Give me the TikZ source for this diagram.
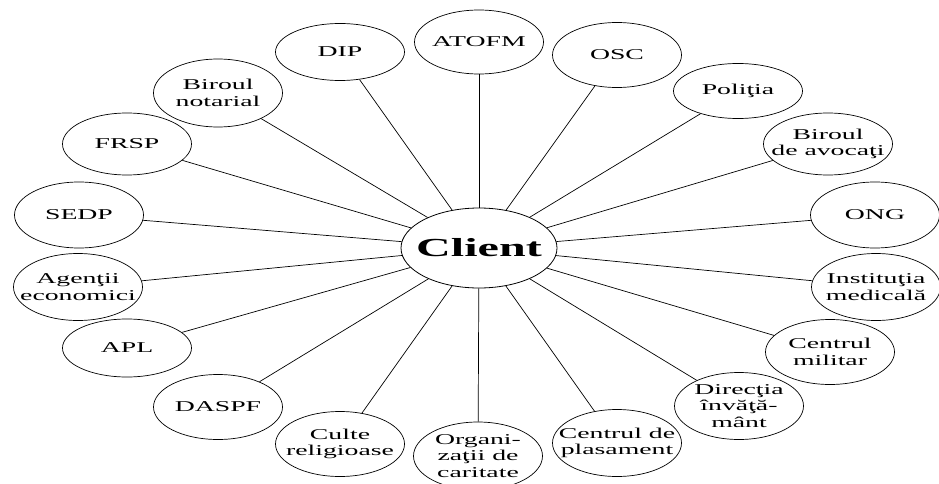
\documentclass[tikz,border=0pt]{standalone}
\usepackage{fontspec}
\setmainfont{Liberation Serif}[FakeStretch=1.85]
\usetikzlibrary{shapes.geometric}

\tikzset{
  hub/.style={ellipse, draw, line width=0.8pt, minimum width=156pt,
    minimum height=80pt, inner sep=0pt},
  hubtext/.style={inner sep=0pt, font=\fontsize{26}{28}\selectfont\bfseries},
  unit/.style={ellipse, draw, line width=0.7pt, minimum width=129pt,
    minimum height=64pt, inner sep=0pt},
  unittext/.style={align=center, inner sep=0pt,
    font=\fontsize{15}{16.5}\selectfont},
  link/.style={line width=0.7pt}
}

\begin{document}
\begin{tikzpicture}[x=1pt,y=-1pt]
  \useasboundingbox (0,0) rectangle (939,484);

  \node[hub, label={[hubtext]center:Client}] (client) at (479,248) {};

  % name / x / y / height / text
  \foreach \nm/\x/\y/\h/\txt in {
      atofm/479/42/64/{ATOFM},
      dip/340/52/57/{DIP},
      notarial/218/93/68/{Biroul\\notarial},
      frsp/127/144/62/{FRSP},
      sedp/79/215/66/{SEDP},
      agenti/78/287/67/{Agenţii\\economici},
      apl/127/348/58/{APL},
      daspf/218/407/65/{DASPF},
      culte/340/444/65/{Culte\\religioase},
      caritate/478/456/68/{Organi-\\zaţii de\\caritate},
      plasament/617/443/67/{Centrul de\\plasament},
      invatamant/739/406/67/{Direcţia\\învăţă-\\mânt},
      militar/830/352/65/{Centrul\\militar},
      medical/876/287/67/{Instituţia\\medicală},
      ong/875/215/66/{ONG},
      avocati/828/144/62/{Biroul\\de avocaţi},
      politia/738/91/55/{Poliţia},
      osc/617/55/65/{OSC}} {
    \node[unit, minimum height=\h pt, label={[unittext]center:\txt}]
      (\nm) at (\x,\y) {};
    \draw[link] (client) -- (\nm);
  }
\end{tikzpicture}
\end{document}
